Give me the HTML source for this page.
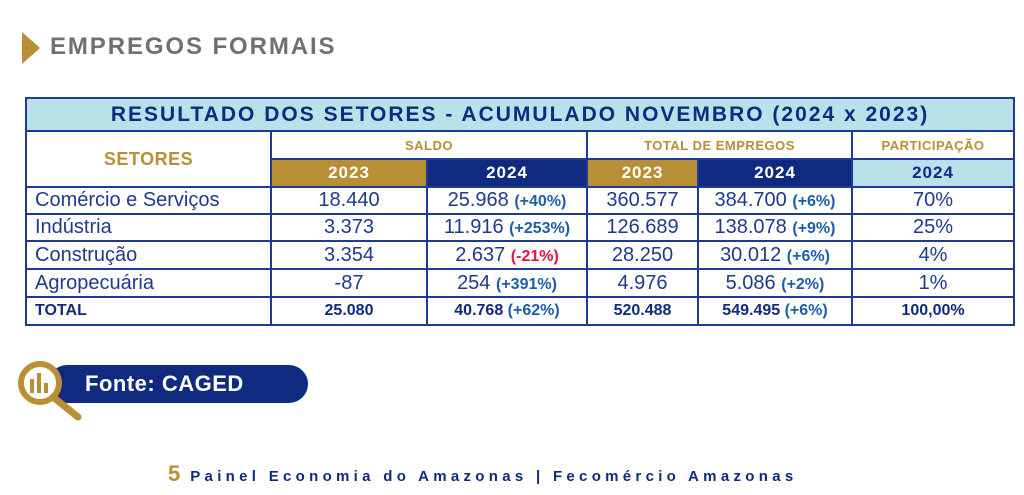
<!DOCTYPE html>
<html><head><meta charset="utf-8">
<style>
body{margin:0;width:1024px;height:495px;background:#fff;position:relative;overflow:hidden;font-family:"Liberation Sans","DejaVu Sans",sans-serif;}
.h{position:absolute;left:50px;top:33px;font-size:24px;font-weight:bold;color:#707074;letter-spacing:1.9px}
.tri{position:absolute;left:22px;top:32px;width:0;height:0;border-top:16px solid transparent;border-bottom:16px solid transparent;border-left:18px solid #b98f35}
table{position:absolute;left:25px;top:97px;border-collapse:collapse;table-layout:fixed;width:988px}
td{border:2px solid #1f3a93;padding:0;text-align:center;color:#1f3a8c;font-size:20px;overflow:hidden;white-space:nowrap}
.t{background:#b9e1ea;color:#0f2a7f;font-weight:bold;font-size:21px;letter-spacing:2px;height:31px}
.g{color:#b98f35;font-weight:bold;font-size:13px;letter-spacing:0.5px}
.yg{background:#b98f35;color:#fff;font-weight:bold;font-size:17px;letter-spacing:1px}
.yn{background:#0f2a7f;color:#fff;font-weight:bold;font-size:17px;letter-spacing:1px}
.yl{background:#b9e1ea;color:#0f2a7f;font-weight:bold;font-size:17px;letter-spacing:1px}
.l{text-align:left;padding-left:8px}
b.p{color:#1c5ea8;font-size:16px}
b.r{color:#e0134a;font-size:16px}
.tot td{font-weight:bold;font-size:16px;color:#0f2a7f}
.pill{position:absolute;left:48px;top:365px;width:260px;height:38px;background:#0f2a7f;border-radius:19px;color:#fff;font-weight:bold;font-size:22px;line-height:38px;padding-left:37px;box-sizing:border-box;letter-spacing:0.5px}
.foot{position:absolute;left:168px;top:461px;color:#0f2a7f;font-size:15px;font-weight:bold;letter-spacing:4.3px;white-space:nowrap}
.foot span{color:#b98f35;font-weight:bold;font-size:22px;letter-spacing:0;margin-right:10px}
</style></head><body>
<div class="tri"></div>
<div class="h">EMPREGOS FORMAIS</div>
<table>
<colgroup><col style="width:245px"><col style="width:156px"><col style="width:160px"><col style="width:111px"><col style="width:154px"><col style="width:162px"></colgroup>
<tr><td class="t" colspan="6">RESULTADO DOS SETORES - ACUMULADO NOVEMBRO (2024 x 2023)</td></tr>
<tr style="height:28px"><td rowspan="2" class="g" style="font-size:18px">SETORES</td><td colspan="2" class="g">SALDO</td><td colspan="2" class="g">TOTAL DE EMPREGOS</td><td class="g">PARTICIPAÇÃO</td></tr>
<tr style="height:28px"><td class="yg">2023</td><td class="yn">2024</td><td class="yg">2023</td><td class="yn">2024</td><td class="yl">2024</td></tr>
<tr style="height:27px"><td class="l">Comércio e Serviços</td><td>18.440</td><td>25.968 <b class="p">(+40%)</b></td><td>360.577</td><td>384.700 <b class="p">(+6%)</b></td><td>70%</td></tr>
<tr style="height:27px"><td class="l">Indústria</td><td>3.373</td><td>11.916 <b class="p">(+253%)</b></td><td>126.689</td><td>138.078 <b class="p">(+9%)</b></td><td>25%</td></tr>
<tr style="height:28px"><td class="l">Construção</td><td>3.354</td><td>2.637 <b class="r">(-21%)</b></td><td>28.250</td><td>30.012 <b class="p">(+6%)</b></td><td>4%</td></tr>
<tr style="height:28px"><td class="l">Agropecuária</td><td>-87</td><td>254 <b class="p">(+391%)</b></td><td>4.976</td><td>5.086 <b class="p">(+2%)</b></td><td>1%</td></tr>
<tr class="tot" style="height:28px"><td class="l">TOTAL</td><td>25.080</td><td>40.768 <b class="p">(+62%)</b></td><td>520.488</td><td>549.495 <b class="p">(+6%)</b></td><td>100,00%</td></tr>
</table>
<div class="pill">Fonte: CAGED</div>
<svg style="position:absolute;left:10px;top:355px" width="80" height="70">
<circle cx="30" cy="28" r="19" fill="#fff" stroke="#b98f35" stroke-width="6"/>
<line x1="43" y1="42" x2="68" y2="62" stroke="#b98f35" stroke-width="7" stroke-linecap="round"/>
<rect x="20" y="24" width="4" height="14" fill="#b98f35"/><rect x="27" y="18" width="4" height="20" fill="#b98f35"/><rect x="34" y="28" width="4" height="10" fill="#b98f35"/>
</svg>
<div class="foot"><span>5</span>Painel Economia do Amazonas | Fecomércio Amazonas</div>
</body></html>
